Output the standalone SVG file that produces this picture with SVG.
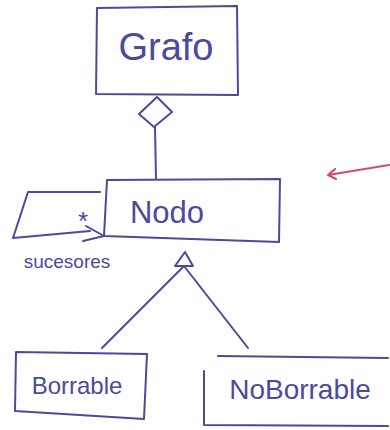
<svg xmlns="http://www.w3.org/2000/svg" width="390" height="430" viewBox="0 0 390 430">
  <style>
    .ink { fill: none; stroke: #4b4a9c; stroke-width: 2; stroke-linecap: round; stroke-linejoin: round; }
    .label { font-family: "Liberation Sans", "DejaVu Sans", sans-serif; fill: #4b4a9c; }
    .red { fill: none; stroke: #d8476e; stroke-width: 2; stroke-linecap: round; stroke-linejoin: round; }
  </style>
  <rect width="390" height="430" fill="#ffffff"/>

  <g id="connectors">
    <!-- aggregation: Grafo <>— Nodo -->
    <path class="ink" d="M157 97 L172 112 L154 127 L139 114 Z"/>
    <path class="ink" d="M155 127 L156 179"/>
    <!-- generalization triangle and branches -->
    <path class="ink" d="M185 252 L193 266 L175 266 Z"/>
    <path class="ink" d="M184 266 L102 348"/>
    <path class="ink" d="M184 266 L248 348"/>
    <!-- self association: sucesores -->
    <path class="ink" d="M100 192 L28 192 L13 238 L90 231"/>
    <path class="ink" d="M83 241 L104 236"/>
    <path class="ink" d="M86 226 L104 236"/>
  </g>

  <g id="grafo">
    <path class="ink" d="M97 8 L237 6 L238 95 L96 94 Z"/>
    <text class="label" x="166" y="60" font-size="38" text-anchor="middle">Grafo</text>
  </g>

  <g id="nodo">
    <path class="ink" d="M107 180 L280 179 L279 242 L104 236 Z"/>
    <text class="label" x="167" y="223" font-size="31" text-anchor="middle">Nodo</text>
    <text class="label" x="83" y="230" font-size="26" text-anchor="middle">*</text>
    <text class="label" x="67" y="268" font-size="19" text-anchor="middle">sucesores</text>
  </g>

  <g id="borrable">
    <path class="ink" d="M16 352 L147 354 L144 419 L15 411 Z"/>
    <text class="label" x="77" y="394" font-size="24" text-anchor="middle">Borrable</text>
  </g>

  <g id="noborrable">
    <path class="ink" d="M218 356 L388 358 M204 371 L204 425 L388 426"/>
    <text class="label" x="300" y="399" font-size="28" text-anchor="middle">NoBorrable</text>
  </g>

  <g id="pointer">
    <path class="red" d="M389 165 L328 175 M328 175 L335 169 M328 175 L336 179"/>
  </g>
</svg>
